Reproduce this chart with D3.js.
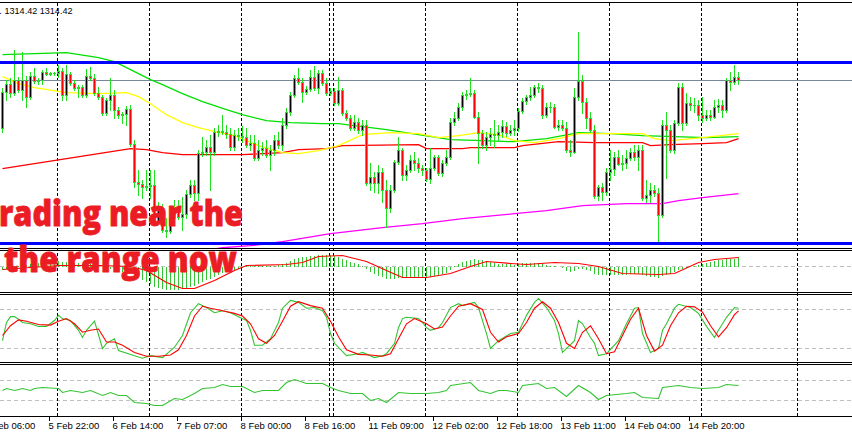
<!DOCTYPE html>
<html><head><meta charset="utf-8">
<script src="https://cdn.jsdelivr.net/npm/d3@7"></script>
<style>body{margin:0;background:#fff;overflow:hidden}svg{display:block}</style>
</head><body>
<svg id="c" width="852" height="437"></svg>
<script>
// ---------- DATA (XAUUSD H1) ----------
const open=[1309.6,1313.2,1314.0,1313.1,1314.4,1313.4,1314.4,1312.7,1314.8,1314.3,
1314.4,1315.2,1315.0,1315.1,1315.1,1315.3,1312.9,1315.0,1314.1,1313.6,
1313.7,1312.9,1314.8,1314.6,1313.1,1312.7,1311.1,1312.4,1312.9,1311.4,
1310.9,1311.0,1311.5,1308.0,1304.2,1304.0,1303.7,1303.8,1303.9,1300.3,
1301.6,1299.4,1299.3,1300.6,1301.7,1300.7,1301.0,1303.0,1303.9,1303.1,
1307.1,1307.2,1307.7,1307.2,1309.2,1309.3,1309.2,1309.0,1307.7,1308.9,
1308.8,1308.7,1307.9,1308.1,1306.6,1307.4,1307.6,1306.9,1307.4,1308.4,
1307.9,1309.9,1311.2,1312.9,1314.6,1314.2,1313.2,1313.5,1314.7,1313.6,
1315.1,1314.1,1313.1,1313.3,1312.1,1313.4,1311.1,1310.6,1309.6,1310.2,
1309.4,1309.9,1304.1,1304.7,1304.1,1305.2,1303.4,1301.6,1303.4,1306.2,
1307.4,1304.9,1305.4,1306.4,1306.1,1305.6,1305.4,1304.5,1305.6,1306.7,
1305.1,1306.1,1306.7,1310.2,1310.6,1311.7,1312.9,1313.0,1313.1,1310.7,
1309.1,1307.9,1308.7,1309.0,1308.9,1309.2,1309.8,1309.1,1309.4,1309.6,
1311.3,1312.3,1312.7,1312.9,1313.7,1313.6,1310.9,1311.7,1311.7,1309.7,
1309.9,1309.6,1307.4,1307.2,1312.7,1314.3,1312.2,1310.6,1309.4,1302.8,
1303.7,1303.2,1305.2,1305.5,1306.7,1306.0,1306.1,1306.6,1307.2,1306.7,
1307.4,1302.6,1302.9,1303.4,1303.1,1300.9,1309.9,1309.4,1307.4,1310.1,
1313.7,1310.1,1312.1,1311.9,1311.9,1310.9,1310.6,1310.9,1310.7,1311.7,
1311.9,1311.4,1314.4,1314.2,1314.7];
const high=[1313.6,1314.4,1314.6,1317.4,1314.7,1317.2,1314.8,1315.2,1315.6,1314.6,
1315.4,1315.6,1315.2,1315.2,1315.9,1315.6,1315.9,1315.2,1314.4,1313.9,
1313.9,1315.5,1315.7,1315.0,1313.7,1312.9,1312.6,1314.6,1313.4,1311.7,
1311.2,1311.8,1311.9,1308.4,1305.4,1304.4,1305.4,1305.4,1305.4,1302.2,
1302.0,1300.6,1300.9,1302.4,1302.4,1302.7,1303.4,1304.4,1304.4,1307.4,
1308.7,1308.4,1308.9,1309.6,1309.9,1310.9,1309.9,1309.6,1309.4,1309.6,
1309.8,1309.6,1308.9,1308.9,1308.4,1308.2,1308.4,1307.9,1308.9,1309.2,
1310.6,1311.6,1313.2,1314.9,1315.6,1314.6,1313.8,1315.4,1315.8,1315.4,
1315.4,1314.6,1313.6,1313.6,1314.7,1313.6,1311.4,1310.9,1310.9,1310.6,
1310.4,1310.4,1306.1,1305.2,1305.9,1305.6,1304.4,1303.9,1306.4,1308.7,
1307.6,1305.9,1306.9,1307.2,1306.6,1305.9,1305.6,1307.6,1306.9,1306.9,
1306.4,1307.4,1310.6,1311.2,1312.1,1313.2,1313.4,1314.6,1313.4,1311.2,
1309.4,1309.2,1309.6,1310.4,1309.9,1310.4,1310.2,1309.9,1310.4,1311.6,
1312.6,1312.9,1313.7,1313.9,1314.1,1313.9,1312.1,1312.2,1312.0,1310.4,
1310.4,1310.2,1308.4,1313.6,1319.2,1314.9,1312.6,1311.2,1309.9,1303.9,
1304.1,1305.6,1307.4,1307.2,1307.4,1306.9,1307.4,1307.6,1307.9,1307.9,
1307.9,1304.4,1304.1,1303.9,1303.6,1310.4,1311.2,1309.9,1310.4,1314.1,
1314.1,1313.1,1312.7,1312.6,1312.4,1312.7,1311.4,1311.4,1312.4,1312.5,
1312.4,1314.6,1315.2,1315.9,1315.2];
const low=[1309.2,1312.4,1312.7,1312.9,1313.2,1312.4,1311.7,1312.5,1314.1,1314.0,
1314.0,1314.9,1314.9,1314.9,1314.7,1312.4,1312.4,1313.9,1313.4,1312.7,
1312.7,1312.7,1314.4,1312.9,1312.5,1310.9,1310.9,1311.4,1310.6,1310.6,
1310.1,1309.9,1307.8,1303.7,1302.9,1302.6,1303.4,1302.6,1300.2,1300.2,
1299.2,1298.7,1299.1,1300.4,1300.5,1299.4,1300.6,1302.7,1302.4,1302.4,
1306.8,1306.9,1303.4,1306.9,1308.8,1309.0,1308.6,1307.4,1307.4,1308.4,
1308.2,1307.7,1307.4,1306.4,1306.4,1306.9,1306.7,1305.4,1306.9,1307.6,
1307.4,1309.6,1310.9,1312.7,1314.0,1312.2,1313.0,1313.3,1313.4,1313.1,
1313.9,1312.9,1312.9,1311.9,1311.9,1310.9,1310.4,1309.4,1309.4,1309.1,
1308.9,1303.9,1303.4,1303.2,1303.1,1302.2,1299.7,1301.2,1303.2,1306.0,
1304.4,1304.4,1305.2,1305.4,1305.2,1304.9,1304.3,1304.1,1305.4,1304.9,
1304.8,1305.9,1306.5,1309.9,1310.4,1311.4,1312.5,1312.8,1310.6,1306.1,
1307.6,1307.4,1307.9,1307.7,1308.4,1308.7,1308.8,1308.9,1308.9,1309.3,
1311.1,1312.0,1312.4,1312.7,1313.2,1310.6,1310.7,1311.2,1309.6,1309.4,
1309.4,1307.2,1306.8,1307.1,1312.4,1311.1,1309.6,1309.2,1302.6,1302.4,
1302.4,1302.9,1304.4,1304.9,1305.9,1305.4,1305.6,1306.4,1306.4,1305.4,
1302.4,1302.2,1302.2,1302.8,1298.1,1300.7,1304.6,1307.2,1307.1,1309.9,
1309.4,1309.9,1311.4,1311.2,1310.4,1310.2,1310.4,1310.4,1310.6,1311.2,
1310.7,1311.2,1313.4,1314.0,1314.0];
const close=[1313.2,1314.0,1313.1,1314.4,1313.4,1314.4,1312.7,1314.8,1314.3,1314.4,
1315.2,1315.0,1315.1,1315.1,1315.3,1312.9,1315.0,1314.1,1313.6,1313.7,
1312.9,1314.8,1314.6,1313.1,1312.7,1311.1,1312.4,1312.9,1311.4,1310.9,
1311.0,1311.5,1308.0,1304.2,1304.0,1303.7,1303.8,1303.9,1300.3,1301.6,
1299.4,1299.3,1300.6,1301.7,1300.7,1301.0,1303.0,1303.9,1303.1,1307.1,
1307.2,1307.7,1307.2,1309.2,1309.3,1309.2,1309.0,1307.7,1308.9,1308.8,
1308.7,1307.9,1308.1,1306.6,1307.4,1307.6,1306.9,1307.4,1308.4,1307.9,
1309.9,1311.2,1312.9,1314.6,1314.2,1313.2,1313.5,1314.7,1313.6,1315.1,
1314.1,1313.1,1313.3,1312.1,1313.4,1311.1,1310.6,1309.6,1310.2,1309.4,
1309.9,1304.1,1304.7,1304.1,1305.2,1303.4,1301.6,1303.4,1306.2,1307.4,
1304.9,1305.4,1306.4,1306.1,1305.6,1305.4,1304.5,1305.6,1306.7,1305.1,
1306.1,1306.7,1310.2,1310.6,1311.7,1312.9,1313.0,1313.1,1310.7,1309.1,
1307.9,1308.7,1309.0,1308.9,1309.2,1309.8,1309.1,1309.4,1309.6,1311.3,
1312.3,1312.7,1312.9,1313.7,1313.6,1310.9,1311.7,1311.7,1309.7,1309.9,
1309.6,1307.4,1307.2,1312.7,1314.3,1312.2,1310.6,1309.4,1302.8,1303.7,
1303.2,1305.2,1305.5,1306.7,1306.0,1306.1,1306.6,1307.2,1306.7,1307.4,
1302.6,1302.9,1303.4,1303.1,1300.9,1309.9,1309.4,1307.4,1310.1,1313.7,
1310.1,1312.1,1311.9,1311.9,1310.9,1310.6,1310.9,1310.7,1311.7,1311.9,
1311.4,1314.4,1314.2,1314.7,1314.42];

const bidPrice=1314.42;
const rangeTop=1316.22, rangeBottom=1298.12;

const maGreenBars=[0,8,16,24,28,32,37,40,45,50,56,60,66,72,80,84,88,96,104,112,120,128,136,144,152,160,168,176,184];
const maGreen=[1317.0,1317.1,1317.2,1316.7,1316.3,1315.5,1314.5,1314.0,1313.1,1312.3,1311.5,1311.0,1310.4,1310.2,1310.1,1310.1,1309.9,1309.5,1309.0,1308.5,1308.4,1308.3,1308.6,1309.2,1309.1,1308.9,1308.8,1308.7,1308.8];
const maYellowBars=[0,4,8,16,24,31,34,37,41,45,49,53,58,64,70,74,79,84,90,97,104,109,114,119,124,128,133,139,144,152,160,163,167,175,184];
const maYellow=[1314.8,1314.1,1313.7,1313.2,1313.1,1313.2,1312.8,1312.1,1311.0,1310.2,1309.7,1309.3,1308.9,1307.9,1307.2,1307.1,1307.4,1307.9,1309.0,1309.2,1309.1,1308.7,1308.9,1309.2,1309.0,1308.4,1308.2,1308.6,1309.1,1309.1,1309.1,1308.6,1308.4,1308.7,1309.1];
const maRedBars=[0,8,16,24,32,36,40,45,60,70,74,81,85,104,106,115,117,128,130,139,148,160,162,167,175,181,184];
const maRed=[1305.6,1306.1,1306.6,1307.1,1307.6,1307.5,1307.2,1307.0,1307.0,1307.2,1307.5,1307.6,1307.9,1308.0,1307.6,1307.6,1307.7,1307.7,1307.9,1308.3,1308.2,1308.2,1307.9,1308.0,1308.1,1308.2,1308.6];
const maMagentaBars=[47,55,62,70,82,95,105,115,128,136,145,156,165,169,175,184];
const maMagenta=[1297.2,1297.7,1297.9,1298.3,1299.1,1299.7,1300.1,1300.6,1301.1,1301.4,1301.9,1302.1,1302.1,1302.4,1302.7,1303.1];

const macdHist=[-0.3,-0.2,-0.1,0,0.1,0.2,0.2,0.3,0.4,0.4,0.5,0.5,0.6,0.6,0.6,
0.5,0.5,0.5,0.4,0.4,0.3,0.3,0.3,0.2,0.1,0,-0.2,-0.2,-0.3,-0.4,-0.5,-0.5,-0.5,-0.7,-1.1,
-1.3,-1.5,-1.7,-2.0,-2.1,-2.2,-2.3,-2.3,-2.3,-2.3,-2.2,-2.1,-2.0,-1.9,-1.7,-1.5,-1.3,-1.2,-1.0,-0.8,-0.6,-0.5,-0.4,-0.3,-0.2,-0.1,
0.1,0.1,0.1,0.1,0.1,0.1,0.1,0.1,0.2,0.3,0.4,0.6,0.8,0.9,1.0,1.0,1.1,1.1,1.2,1.2,1.2,1.2,1.1,1.0,0.8,0.7,0.5,0.4,0.3,0.1,
-0.2,-0.5,-0.7,-0.9,-1.0,-1.2,-1.2,-1.2,-1.1,-1.1,-1.1,-1.1,-1.1,-1.1,-1.1,-1.0,-1.0,-0.9,-0.9,-0.7,-0.6,-0.3,
0.1,0.3,0.5,0.6,0.7,0.8,0.7,0.7,0.6,0.5,0.4,0.3,0.3,0.3,0.3,0.2,0.3,0.4,0.4,0.4,0.4,0.4,0.3,0.2,0.1,0.1,0,
-0.1,-0.4,-0.5,-0.4,-0.2,-0.2,-0.3,-0.4,-0.7,-0.8,-0.8,-0.8,-0.8,-0.8,-0.8,-0.8,-0.8,-0.7,-0.7,-0.7,-0.8,-0.9,-1.0,-1.0,-1.1,-0.9,-0.8,-0.7,-0.5,-0.3,-0.2,-0.1,
0,0.1,0.2,0.3,0.4,0.5,0.6,0.7,0.7,0.8,0.8,0.8,1.0];
const macdSigBars=[0,7,14,24,32,36,41,45,48,53,58,61,71,75,79,85,91,96,100,106,112,117,121,127,131,138,144,149,155,164,168,174,178,184];
const macdSignal=[-0.3,-0.1,0.1,0.1,0,-0.4,-1.6,-2.2,-2.2,-1.4,-0.4,0.1,0.2,0.4,1.0,1.1,0.5,-0.4,-1.1,-1.1,-0.7,0,0.5,0.3,0.2,0.4,0.3,0,-0.7,-0.8,-0.7,0.4,0.7,0.9];

const stochKBars=[0,1,2,3,4,5,7,9,11,13,14,15,17,19,20,21,23,25,26,28,29,33,35,37,40,43,45,47,49,51,53,55,57,59,61,62,63,65,67,69,70,72,74,76,78,80,81,82,83,86,89,90,93,95,96,98,99,100,101,104,105,106,107,109,110,112,114,115,118,119,121,122,124,127,129,131,133,134,136,138,139,140,143,144,145,147,148,149,151,154,156,158,159,160,162,164,165,166,168,169,172,174,176,178,179,181,183,184];
const stochK=[32,60,69,69,65,60,58,54,54,63,71,66,63,48,37,48,62,20,28,35,17,9,5,9,6,22,40,75,89,83,75,78,75,69,63,48,25,25,35,60,82,94,91,82,83,78,68,43,28,9,12,14,6,9,12,28,52,66,68,66,60,52,48,52,60,83,89,86,91,83,43,20,32,43,45,71,91,97,83,63,43,14,32,63,58,37,28,9,12,32,58,82,83,43,14,20,48,58,82,88,83,74,54,37,48,68,83,82];
const stochDBars=[0,2,4,6,9,12,14,16,18,20,22,24,26,28,30,33,36,39,42,44,46,48,50,52,55,58,60,62,64,66,68,70,72,74,77,80,82,84,86,89,92,95,97,99,101,103,106,108,110,112,114,117,120,122,124,126,129,131,133,135,137,139,141,143,145,147,149,151,153,155,157,159,161,163,165,167,169,171,173,175,177,179,181,183,184];
const stochD=[40,55,64,62,57,56,62,66,58,45,48,50,30,30,25,14,8,8,10,18,40,70,85,82,78,74,70,58,35,28,40,62,85,92,86,82,62,38,18,11,10,8,12,35,58,66,58,50,53,70,85,89,80,45,30,38,43,60,82,92,82,60,28,20,45,55,35,12,15,40,65,82,40,16,25,55,75,85,84,76,55,38,52,72,78];

const rsiBars=[0,1,3,5,7,8,10,14,15,17,20,22,25,27,29,31,33,36,38,40,43,45,48,50,53,55,57,60,63,65,69,71,73,76,80,82,84,87,90,92,94,96,99,102,106,109,111,112,117,119,122,124,126,129,130,134,136,138,141,144,147,149,151,156,158,160,164,165,169,172,175,179,181,184];
const rsi=[50,54,50,54,50,54,56,54,46,50,46,50,40,46,40,40,26,24,20,20,34,32,44,54,56,62,58,58,46,50,50,66,72,64,64,56,50,44,44,30,34,26,46,44,44,46,50,60,66,50,44,50,50,46,60,64,54,56,38,60,46,32,40,44,46,36,34,56,60,56,54,56,62,60];

const gridBars=[14,37,60,82,83,106,129,152,175,199];
const tickBars=[-4,12,28,44,60,76,92,108,124,140,156,172];
const tickLabels=["5 Feb 06:00","5 Feb 22:00","6 Feb 14:00","7 Feb 07:00","8 Feb 00:00","8 Feb 16:00","11 Feb 09:00","12 Feb 02:00","12 Feb 18:00","13 Feb 11:00","14 Feb 04:00","14 Feb 20:00"];
const headerText="1314.42 1314.42";
const noteLines=["rading near the","the range now"];

// ---------- DRAW ----------
const svg=d3.select('#c');
const N=close.length;
const x=d3.scaleLinear().domain([0,1]).range([2.5,6.5]);
const yM=d3.scaleLinear().domain([1297.62,1322.22]).range([248.5,2.5]);
const yMacd=d3.scaleLinear().domain([-2.5,1.5]).range([291.5,251.5]);
const ySto=d3.scaleLinear().domain([0,100]).range([361.5,296.5]);
const yRsi=d3.scaleLinear().domain([0,100]).range([415.5,365.5]);

const GREEN='#1fe01f', IND='#33c433';
svg.append('rect').attr('width',852).attr('height',437).attr('fill','#fff');
const defs=svg.append('defs');
function clip(id,y,h){defs.append('clipPath').attr('id',id).append('rect').attr('x',0).attr('y',y).attr('width',852).attr('height',h);}
clip('cm',3,245);clip('cd',251,41);clip('cs',295,67);clip('cr',365,51);

// level lines
const lv=svg.append('g').attr('stroke','#c0c0c0').attr('stroke-dasharray','4,3').attr('shape-rendering','crispEdges');
[[yMacd,0],[ySto,80],[ySto,20],[yRsi,70],[yRsi,30]].forEach(([s,v])=>{
  lv.append('line').attr('x1',0).attr('x2',852).attr('y1',s(v)).attr('y2',s(v));
});
// vertical grid separators
const gr=svg.append('g').attr('stroke','#000').attr('stroke-dasharray','3,2').attr('shape-rendering','crispEdges');
gridBars.forEach(b=>{const xx=x(b)-1;gr.append('line').attr('x1',xx).attr('x2',xx).attr('y1',3).attr('y2',416);});

// main panel
const main=svg.append('g').attr('clip-path','url(#cm)');
main.append('line').attr('x1',0).attr('x2',852).attr('y1',yM(bidPrice)).attr('y2',yM(bidPrice)).attr('stroke','#778899').attr('shape-rendering','crispEdges');
function maLine(bars,vals,color){
  const ln=d3.line().x(d=>x(d[0])).y(d=>yM(d[1]));
  main.append('path').attr('d',ln(d3.zip(bars,vals))).attr('fill','none').attr('stroke',color).attr('stroke-width',1.3);
}
maLine(maMagentaBars,maMagenta,'#ff00ff');
maLine(maRedBars,maRed,'#ff0000');
maLine(maGreenBars,maGreen,'#00e000');
maLine(maYellowBars,maYellow,'#ffff00');

const cg=main.append('g').attr('shape-rendering','crispEdges');
for(let i=0;i<N;i++){
  const cx=x(i)-0.5;
  const yh=Math.round(yM(high[i])-0.5), yl=Math.round(yM(low[i])-0.5);
  cg.append('rect').attr('x',cx).attr('y',yh).attr('width',1).attr('height',yl-yh+1).attr('fill',GREEN);
  const t=Math.round(yM(Math.max(open[i],close[i]))-0.5), b=Math.round(yM(Math.min(open[i],close[i]))-0.5);
  const h=b-t+1;
  cg.append('rect').attr('x',cx-1).attr('y',t).attr('width',3).attr('height',h).attr('fill',GREEN);
  if(h>2) cg.append('rect').attr('x',cx).attr('y',t+1).attr('width',1).attr('height',h-2).attr('fill',close[i]>=open[i]?'#000':'#ff0000');
}
[rangeTop,rangeBottom].forEach(p=>{
  svg.append('line').attr('x1',0).attr('x2',852).attr('y1',yM(p)).attr('y2',yM(p)).attr('stroke','#0000ff').attr('stroke-width',3.2);
});

// MACD
const md=svg.append('g').attr('clip-path','url(#cd)');
const hg=md.append('g').attr('shape-rendering','crispEdges');
macdHist.forEach((v,i)=>{ if(v===0) return;
  hg.append('line').attr('x1',x(i)).attr('x2',x(i)).attr('y1',yMacd(0)).attr('y2',yMacd(v)).attr('stroke',IND);
});
md.append('path').attr('d',d3.line().x(d=>x(d[0])).y(d=>yMacd(d[1]))(d3.zip(macdSigBars,macdSignal))).attr('fill','none').attr('stroke','#ff0000').attr('stroke-width',1.2);

// Stochastic
const st=svg.append('g').attr('clip-path','url(#cs)');
st.append('path').attr('d',d3.line().x(d=>x(d[0])).y(d=>ySto(d[1]))(d3.zip(stochKBars,stochK))).attr('fill','none').attr('stroke',IND).attr('stroke-width',1.1);
st.append('path').attr('d',d3.line().x(d=>x(d[0])).y(d=>ySto(d[1]))(d3.zip(stochDBars,stochD))).attr('fill','none').attr('stroke','#ff0000').attr('stroke-width',1.1);

// RSI
const rs=svg.append('g').attr('clip-path','url(#cr)');
rs.append('path').attr('d',d3.line().x(d=>x(d[0])).y(d=>yRsi(d[1]))(d3.zip(rsiBars,rsi))).attr('fill','none').attr('stroke',IND).attr('stroke-width',1.1);

// borders
const bd=svg.append('g').attr('stroke','#000').attr('shape-rendering','crispEdges');
[2,248,250,292,294,362,364,416].forEach(r=>bd.append('line').attr('x1',0).attr('x2',852).attr('y1',r+0.5).attr('y2',r+0.5));

// time axis
const ax=svg.append('g');
tickBars.forEach((b,k)=>{
  const xx=x(b)-1;
  ax.append('line').attr('x1',xx).attr('x2',xx).attr('y1',416).attr('y2',421).attr('stroke','#000').attr('shape-rendering','crispEdges');
  ax.append('text').attr('x',xx-1).attr('y',429).text(tickLabels[k])
    .attr('font-family','Liberation Sans, Arial, sans-serif').attr('font-size','9.5px').attr('fill','#000');
});
svg.append('text').attr('x',-1).attr('y',14).text('.').attr('font-family','Liberation Sans, Arial, sans-serif').attr('font-size','10px').attr('fill','#000060');
svg.append('text').attr('x',4.5).attr('y',14).text(headerText).attr('font-family','Liberation Sans, Arial, sans-serif')
  .attr('font-size','9.5px').attr('fill','#000').attr('textLength',68).attr('lengthAdjust','spacingAndGlyphs');

// annotation
const nt=svg.append('g').attr('font-family','Open Sans, Noto Sans, sans-serif').attr('font-weight',800).attr('font-size','35px')
  .attr('fill','#ec1c24').attr('stroke','#ec1c24').attr('stroke-width',0.8).attr('stroke-linejoin','round');
nt.append('text').attr('x',-1).attr('y',226).text(noteLines[0]).attr('textLength',244).attr('lengthAdjust','spacingAndGlyphs');
nt.append('text').attr('x',4).attr('y',272).text(noteLines[1]).attr('textLength',233).attr('lengthAdjust','spacingAndGlyphs');
</script>
</body></html>
